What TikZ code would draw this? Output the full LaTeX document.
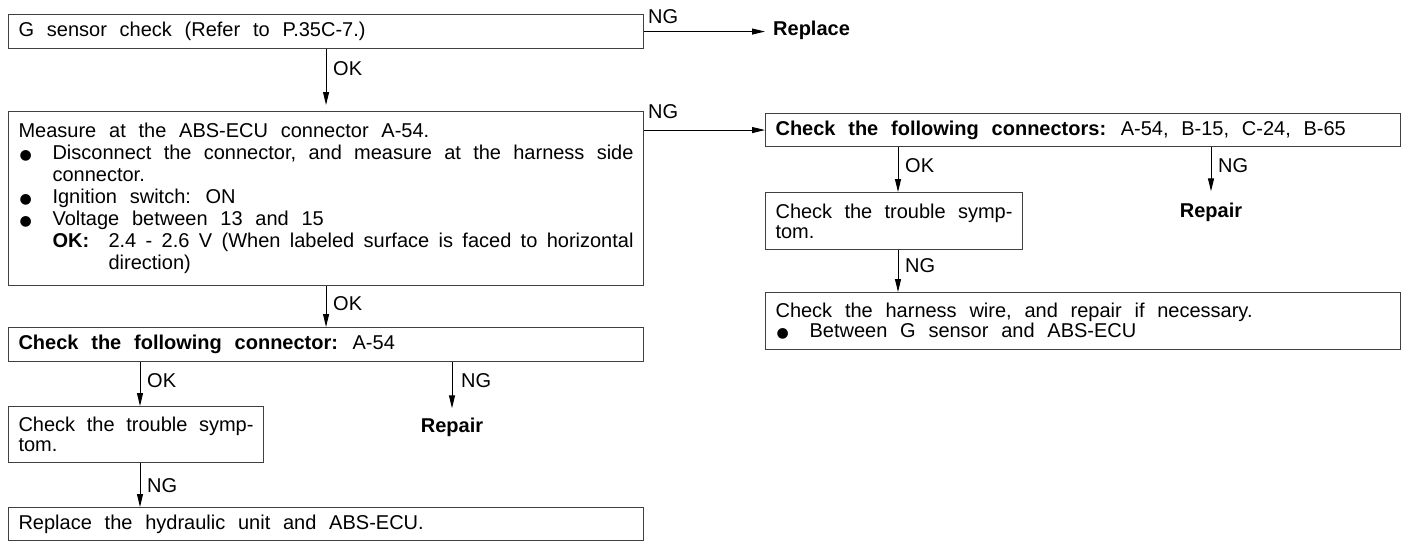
\documentclass[tikz,border=0pt]{standalone}
\usepackage{fontspec}
\setmainfont{Liberation Sans}[WordSpace=2.3]
\newfontfamily\dejavu{DejaVu Sans}
\usetikzlibrary{arrows.meta}
\setlength{\parindent}{0pt}
\newcommand{\bigbul}{\makebox[34pt][l]{\hspace{1pt}{\fontsize{14}{14}\selectfont\dejavu ●}}}
\begin{document}
\begin{tikzpicture}[x=1pt,y=-1pt,
  box/.style={draw=black!75, line width=1.1pt, anchor=north west, inner xsep=10pt, inner ysep=0pt,
    align=justify, font=\fontsize{20}{20}\selectfont},
  lab/.style={anchor=base west, inner sep=0pt, font=\fontsize{20}{20}\selectfont},
  res/.style={anchor=base, inner sep=0pt, font=\fontsize{20}{20}\selectfont\bfseries},
  arr/.style={line width=1pt, -{Triangle[length=13pt,width=6pt]}}]
\useasboundingbox (0,0) rectangle (1407,541);
\fill[white] (0,0) rectangle (1407,541);

% left column
\node[box, minimum width=635pt, minimum height=34pt, text width=615pt] (b1) at (8,14)
  {G sensor check (Refer to P.35C-7.)};
\node[box, minimum width=635pt, minimum height=174pt, text width=615pt, font=\fontsize{20}{22}\selectfont] (b2) at (8,111)
  {Measure at the ABS-ECU connector A-54.\par
   \hangindent=34pt\hangafter=1 \bigbul Disconnect the connector, and measure at the harness side\linebreak connector.\par
   \bigbul Ignition switch: ON\par
   \bigbul Voltage between 13 and 15\par
   \hangindent=90pt\hangafter=1 \hspace*{34pt}\makebox[56pt][l]{\textbf{OK:}}2.4 - 2.6 V (When labeled surface is faced to horizontal\linebreak direction)\par};
\node[box, minimum width=635pt, minimum height=34pt, text width=615pt] (b3) at (8,327)
  {\textbf{Check the following connector:} A-54};
\node[box, minimum width=255pt, minimum height=56pt, text width=235pt] (b4) at (8,406)
  {Check the trouble symp-\linebreak tom.};
\node[box, minimum width=635pt, minimum height=33pt, text width=615pt] (b5) at (8,507)
  {Replace the hydraulic unit and ABS-ECU.};
\node[anchor=west, inner xsep=8pt, inner ysep=0pt, font=\fontsize{20}{20}\selectfont\bfseries] (rep1) at (765,30) {Replace};
\node[res] (rep2) at (452,432) {Repair};

% right column
\node[box, minimum width=635pt, minimum height=33pt, text width=615pt] (b6) at (765,113)
  {\textbf{Check the following connectors:} A-54, B-15, C-24, B-65};
\node[box, minimum width=257pt, minimum height=57pt, text width=237pt] (b7) at (765,192)
  {Check the trouble symp-\linebreak tom.};
\node[box, minimum width=635pt, minimum height=57pt, text width=615pt] (b8) at (765,292)
  {Check the harness wire, and repair if necessary.\par
   \bigbul Between G sensor and ABS-ECU};
\node[res] (rep3) at (1211,217) {Repair};

\coordinate (c34) at (140,0);
\coordinate (c67) at (898,0);

% connectors
\draw[arr] (b1.east) -- (b1.east -| rep1.west);
\node[lab] (ng1) at (648,23) {NG};
\draw[arr, shorten >=6pt] (b1.south) -- (b2.north);
\node[lab] (ok1) at (333,75) {OK};
\draw[arr] (b6.west -| b2.east) -- (b6.west);
\node[lab] (ng2) at (648,118) {NG};
\draw[arr] (b2.south) -- (b3.north);
\node[lab] (ok2) at (333,310) {OK};
\draw[arr] (b3.south -| c34) -- (b4.north -| c34);
\node[lab] (ok3) at (147,387) {OK};
\draw[arr, shorten >=9pt] (b3.south -| rep2.north) -- (rep2.north);
\node[lab] (ng4) at (461,387) {NG};
\draw[arr] (b4.south -| c34) -- (b5.north -| c34);
\node[lab] (ng3) at (147,492) {NG};

\draw[arr] (b6.south -| c67) -- (b7.north -| c67);
\node[lab] (ok6) at (905,172) {OK};
\draw[arr, shorten >=11pt] (b6.south -| rep3.north) -- (rep3.north);
\node[lab] (ng6) at (1218,172) {NG};
\draw[arr] (b7.south -| c67) -- (b8.north -| c67);
\node[lab] (ng7) at (905,272) {NG};
\end{tikzpicture}
\end{document}
